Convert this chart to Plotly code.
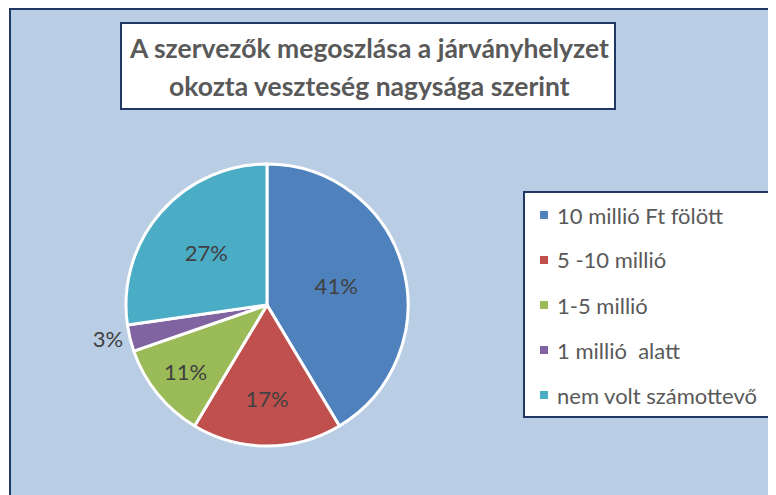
import plotly.graph_objects as go

# ---- data ----
categories = ["10 millió Ft fölött", "5 -10 millió", "1-5 millió", "1 millió  alatt", "nem volt számottevő"]
shares = [41, 17, 11, 3, 27]          # percent of organisers
colors = ["#4F81BD", "#C0504D", "#9BBB59", "#8064A2", "#4BACC6"]
title_lines = ["A szervezők megoszlása a járványhelyzet", "okozta veszteség nagysága szerint"]

W, H = 776, 495
OFF = 8  # page body margin of the browser
def X(px):
    return (px - OFF) / W
def Y(py):
    return 1 - (py - OFF) / H

FONT = "Lato"
NAVY = "#1F3864"
BG = "#B9CDE5"

cx, cy, r = 267, 305, 141

fig = go.Figure()
fig.add_trace(go.Pie(
    labels=categories,
    values=shares,
    sort=False,
    direction="clockwise",
    rotation=0,
    marker=dict(colors=colors, line=dict(color="white", width=3)),
    texttemplate="%{value}%",
    textposition=["inside", "inside", "inside", "outside", "inside"],
    insidetextorientation="horizontal",
    textfont=dict(family=FONT, size=22, color="#404040"),
    showlegend=False,
    hoverinfo="label+percent",
    domain=dict(x=[X(cx - r), X(cx + r)], y=[Y(cy + r), Y(cy - r)]),
))

shapes = [
    # chart area background with frame
    dict(type="rect", xref="paper", yref="paper", x0=X(10), y0=Y(9), x1=1.05, y1=-0.05,
         fillcolor=BG, line=dict(color=NAVY, width=2), layer="below"),
    # title box
    dict(type="rect", xref="paper", yref="paper", x0=X(121), y0=Y(23), x1=X(615), y1=Y(109),
         fillcolor="white", line=dict(color=NAVY, width=2), layer="below"),
    # legend box
    dict(type="rect", xref="paper", yref="paper", x0=X(524), y0=Y(192), x1=X(772), y1=Y(417),
         fillcolor="white", line=dict(color=NAVY, width=2), layer="below"),
]

annotations = []
for i, line in enumerate(title_lines):
    annotations.append(dict(
        text="<b>%s</b>" % line, xref="paper", yref="paper", x=X(369), y=Y(48 + 38 * i),
        xanchor="center", yanchor="middle", showarrow=False,
        font=dict(family=FONT, size=26.5, color="#595959")))

item_y0, item_gap = 215, 45
for i, (cat, col) in enumerate(zip(categories, colors)):
    yc = item_y0 + item_gap * i
    shapes.append(dict(type="rect", xref="paper", yref="paper",
                       x0=X(540), x1=X(548), y0=Y(yc - 4), y1=Y(yc + 4),
                       fillcolor=col, line=dict(width=0)))
    annotations.append(dict(
        text=cat, xref="paper", yref="paper", x=X(555), y=Y(yc),
        xanchor="left", yanchor="middle", showarrow=False,
        font=dict(family=FONT, size=22, color="#595959")))

fig.update_layout(
    width=W, height=H,
    margin=dict(l=0, r=0, t=0, b=0),
    paper_bgcolor="white",
    plot_bgcolor="white",
    shapes=shapes,
    annotations=annotations,
)

fig.write_html("out.html")
